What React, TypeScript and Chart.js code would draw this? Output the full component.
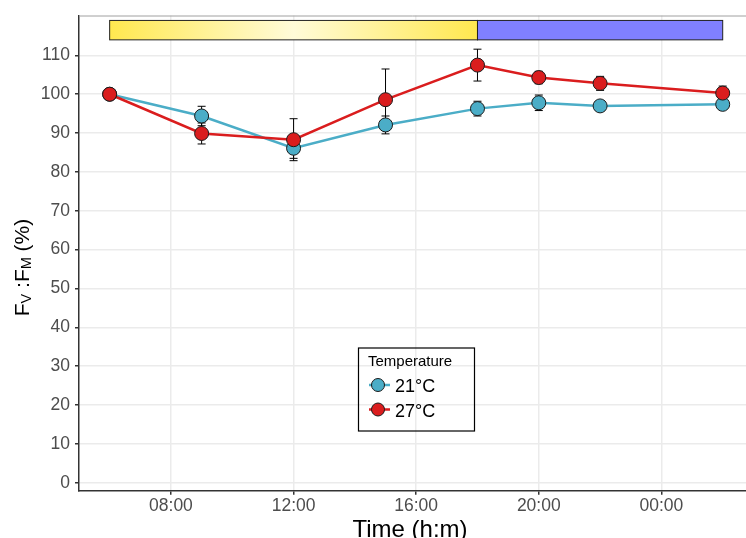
import React, { useEffect, useRef } from "react";
import { Chart, registerables } from "chart.js";

Chart.register(...registerables);

// ---- data ----
const hours = [6, 9, 12, 15, 18, 20, 22, 26]; // 26 = 02:00 next day
const mean21 = [100, 94.4, 86.1, 92.1, 96.3, 97.8, 97.0, 97.4];
const err21 = [0, 2.5, 2.6, 2.3, 1.9, 2.0, 1.2, 1.0];
const mean27 = [100, 89.9, 88.3, 98.6, 107.5, 104.3, 102.8, 100.3];
const err27 = [0, 2.7, 5.4, 7.9, 4.1, 1.6, 1.8, 1.8];
const seriesLabels = ["21°C", "27°C"];
const legendTitle = "Temperature";
const xTickHours = [8, 12, 16, 20, 24];
const xTickLabels = ["08:00", "12:00", "16:00", "20:00", "00:00"];
const yTickValues = [0, 10, 20, 30, 40, 50, 60, 70, 80, 90, 100, 110];
const lightPeriod = [6, 18];
const darkPeriod = [18, 26];
const periodBand = [114, 119];
const xTitle = "Time (h:m)";

const BLUE = "#4BADC7";
const RED = "#DA1D1E";
const FONT = "'Liberation Sans', Arial, Helvetica, sans-serif";

const decorPlugin = {
  id: "decor",
  beforeDatasetsDraw(chart: any) {
    const { ctx, scales } = chart;
    const x = scales.x;
    const y = scales.y;
    ctx.save();
    // error bars
    ctx.strokeStyle = "#000";
    ctx.lineWidth = 1;
    const drawErr = (means: number[], errs: number[]) => {
      hours.forEach((h, i) => {
        const px = x.getPixelForValue(h);
        const top = y.getPixelForValue(means[i] + errs[i]);
        const bot = y.getPixelForValue(means[i] - errs[i]);
        ctx.beginPath();
        ctx.moveTo(px, top);
        ctx.lineTo(px, bot);
        ctx.moveTo(px - 4, top);
        ctx.lineTo(px + 4, top);
        ctx.moveTo(px - 4, bot);
        ctx.lineTo(px + 4, bot);
        ctx.stroke();
      });
    };
    drawErr(mean21, err21);
    drawErr(mean27, err27);

    // light/dark period band
    const yTop = y.getPixelForValue(periodBand[1]);
    const yBot = y.getPixelForValue(periodBand[0]);
    const l0 = x.getPixelForValue(lightPeriod[0]);
    const l1 = x.getPixelForValue(lightPeriod[1]);
    const grad = ctx.createLinearGradient(l0, 0, l1, 0);
    grad.addColorStop(0, "#FFE84F");
    grad.addColorStop(0.5, "#FFFBD8");
    grad.addColorStop(1, "#FFE84F");
    ctx.fillStyle = grad;
    ctx.fillRect(l0, yTop, l1 - l0, yBot - yTop);
    ctx.strokeStyle = "#222";
    ctx.lineWidth = 1;
    ctx.strokeRect(l0, yTop, l1 - l0, yBot - yTop);
    const d0 = x.getPixelForValue(darkPeriod[0]);
    const d1 = x.getPixelForValue(darkPeriod[1]);
    ctx.fillStyle = "#8080FF";
    ctx.fillRect(d0, yTop, d1 - d0, yBot - yTop);
    ctx.strokeRect(d0, yTop, d1 - d0, yBot - yTop);
    ctx.restore();
  },
  afterDraw(chart: any) {
    const { ctx, chartArea } = chart;
    ctx.save();
    // top panel border
    ctx.strokeStyle = "#A0A0A0";
    ctx.lineWidth = 1;
    ctx.beginPath();
    ctx.moveTo(chartArea.left, chartArea.top + 0.5);
    ctx.lineTo(chartArea.right, chartArea.top + 0.5);
    ctx.stroke();

    // x title
    ctx.fillStyle = "#000";
    ctx.font = `24px ${FONT}`;
    ctx.textAlign = "center";
    ctx.textBaseline = "alphabetic";
    ctx.fillText(xTitle, 410, 537);

    // y title with subscripts
    const segs = [
      { t: "F", s: 21, dy: 0 },
      { t: "V", s: 14.5, dy: 2 },
      { t: " :", s: 21, dy: 0 },
      { t: "F", s: 21, dy: 0 },
      { t: "M", s: 14.5, dy: 2 },
      { t: " (%)", s: 21, dy: 0 },
    ];
    ctx.textAlign = "left";
    let total = 0;
    const widths = segs.map((sg) => {
      ctx.font = `${sg.s}px ${FONT}`;
      const w = ctx.measureText(sg.t).width;
      total += w;
      return w;
    });
    ctx.translate(29, 267.5);
    ctx.rotate(-Math.PI / 2);
    let cx = -total / 2;
    segs.forEach((sg, i) => {
      ctx.font = `${sg.s}px ${FONT}`;
      ctx.fillText(sg.t, cx, sg.dy);
      cx += widths[i];
    });
    ctx.setTransform(1, 0, 0, 1, 0, 0);

    // legend
    ctx.strokeStyle = "#000";
    ctx.lineWidth = 1.2;
    ctx.strokeRect(358.5, 348, 116, 83);
    ctx.fillStyle = "#000";
    ctx.font = `15px ${FONT}`;
    ctx.textAlign = "left";
    ctx.fillText(legendTitle, 368, 366);
    const entries = [
      { label: seriesLabels[0], color: BLUE, y: 385 },
      { label: seriesLabels[1], color: RED, y: 409.5 },
    ];
    entries.forEach((e) => {
      ctx.strokeStyle = e.color;
      ctx.lineWidth = 2.5;
      ctx.beginPath();
      ctx.moveTo(369, e.y);
      ctx.lineTo(390, e.y);
      ctx.stroke();
      ctx.beginPath();
      ctx.arc(378, e.y, 6.5, 0, Math.PI * 2);
      ctx.fillStyle = e.color;
      ctx.fill();
      ctx.strokeStyle = "#1a1a1a";
      ctx.lineWidth = 1;
      ctx.stroke();
      ctx.fillStyle = "#000";
      ctx.font = `18px ${FONT}`;
      ctx.fillText(e.label, 395, e.y + 7);
    });
    ctx.restore();
  },
};

export default function App() {
  const ref = useRef<HTMLCanvasElement | null>(null);
  useEffect(() => {
    if (!ref.current) return;
    const pts = (m: number[]) => hours.map((h, i) => ({ x: h, y: m[i] }));
    const chart = new Chart(ref.current, {
      type: "line",
      data: {
        datasets: [
          {
            label: seriesLabels[1] + " points",
            data: pts(mean27),
            showLine: false,
            pointRadius: 7,
            pointBackgroundColor: RED,
            pointBorderColor: "#1a1a1a",
            pointBorderWidth: 1,
            order: 0,
          },
          {
            label: seriesLabels[0] + " points",
            data: pts(mean21),
            showLine: false,
            pointRadius: 7,
            pointBackgroundColor: BLUE,
            pointBorderColor: "#1a1a1a",
            pointBorderWidth: 1,
            order: 1,
          },
          {
            label: seriesLabels[1],
            data: pts(mean27),
            borderColor: RED,
            borderWidth: 2.5,
            pointRadius: 0,
            order: 2,
          },
          {
            label: seriesLabels[0],
            data: pts(mean21),
            borderColor: BLUE,
            borderWidth: 2.5,
            pointRadius: 0,
            order: 3,
          },
        ],
      },
      options: {
        animation: false,
        responsive: false,
        layout: { autoPadding: false, padding: { top: 14.3, left: 0, right: 0, bottom: 0 } },
        plugins: {
          legend: { display: false },
          tooltip: { enabled: false },
        },
        scales: {
          x: {
            type: "linear",
            min: 5,
            max: 26.76,
            afterBuildTicks: (s: any) => {
              s.ticks = xTickHours.map((v) => ({ value: v }));
            },
            afterFit: (s: any) => {
              s.height = 47.3;
            },
            ticks: {
              callback: (v: any) => xTickLabels[xTickHours.indexOf(Number(v))],
              font: { size: 17.5, family: FONT },
              color: "#4D4D4D",
              padding: 1,
              maxRotation: 0,
              autoSkip: false,
            },
            grid: { color: "#EBEBEB", lineWidth: 1.5, tickLength: 4, tickColor: "#333" },
            border: { color: "#333", width: 1.5 },
          },
          y: {
            min: -2.054,
            max: 120.27,
            afterBuildTicks: (s: any) => {
              s.ticks = yTickValues.map((v) => ({ value: v }));
            },
            afterFit: (s: any) => {
              s.width = 79;
            },
            ticks: {
              font: { size: 17.5, family: FONT },
              color: "#4D4D4D",
              padding: 5,
              autoSkip: false,
            },
            grid: { color: "#EBEBEB", lineWidth: 1.5, tickLength: 4, tickColor: "#333" },
            border: { color: "#333", width: 1.5 },
          },
        },
      },
      plugins: [decorPlugin],
    });
    return () => chart.destroy();
  }, []);
  return (
    <div style={{ position: "absolute", left: 0, top: 0, width: 746, height: 538, background: "#fff" }}>
      <canvas ref={ref} width={746} height={538} style={{ width: 746, height: 538, display: "block" }} />
    </div>
  );
}
